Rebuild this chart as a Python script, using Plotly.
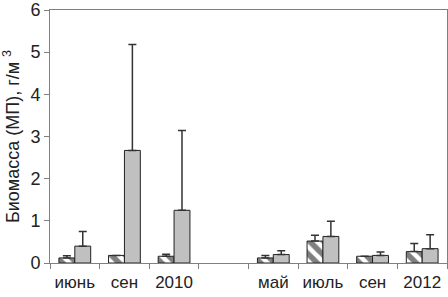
import plotly.graph_objects as go

categories = ["июнь", "сен", "2010", " ", "май", "июль", "сен ", "2012"]
tick_labels = ["июнь", "сен", "2010", "", "май", "июль", "сен", "2012"]

hatched_vals = [0.12, 0.18, 0.16, None, 0.12, 0.52, 0.16, 0.27]
hatched_err = [0.05, 0.0, 0.05, None, 0.06, 0.14, 0.0, 0.19]
gray_vals = [0.40, 2.67, 1.25, None, 0.20, 0.63, 0.18, 0.34]
gray_err = [0.35, 2.51, 1.89, None, 0.09, 0.36, 0.08, 0.33]

fig = go.Figure()
fig.add_trace(go.Bar(
    x=categories, y=hatched_vals,
    marker=dict(color="white", line=dict(color="#222222", width=1),
                pattern=dict(shape="\\", fgcolor="black", bgcolor="white",
                             size=10, solidity=0.55)),
    error_y=dict(type="data", array=hatched_err, arrayminus=[0]*8,
                 symmetric=False, color="#333333", thickness=1.5, width=4),
    showlegend=False,
))
fig.add_trace(go.Bar(
    x=categories, y=gray_vals,
    marker=dict(color="#c0c0c0", line=dict(color="#222222", width=1)),
    error_y=dict(type="data", array=gray_err, arrayminus=[0]*8,
                 symmetric=False, color="#333333", thickness=1.5, width=4),
    showlegend=False,
))

fig.update_layout(
    width=448, height=297,
    margin=dict(l=50, r=1, t=10, b=34),
    paper_bgcolor="white", plot_bgcolor="white",
    barmode="group", bargap=0.36, bargroupgap=0,
    font=dict(family="Arial, Liberation Sans, sans-serif", color="#222222"),
)
fig.update_xaxes(
    type="category", categoryorder="array", categoryarray=categories,
    tickmode="array", tickvals=categories, ticktext=tick_labels,
    tickson="boundaries", ticks="outside", ticklen=5, tickcolor="#808080",
    showline=True, linecolor="#808080", linewidth=1, mirror=True,
    tickfont=dict(size=17), ticklabelstandoff=4, ticklabeloverflow="allow",
    tickangle=0, automargin=False,
    showgrid=False, zeroline=False,
)
fig.update_yaxes(
    range=[0, 6], tickvals=[0, 1, 2, 3, 4, 5, 6],
    ticks="outside", ticklen=5, tickcolor="#808080",
    showline=True, linecolor="#808080", linewidth=1, mirror=True,
    tickfont=dict(size=18), ticklabeloverflow="allow", automargin=False,
    showgrid=False, zeroline=False,
    title=dict(text="Биомасса (МП), г/м <sup>3</sup>", font=dict(size=18), standoff=6),
)

fig.write_html("out.html", config={"displayModeBar": False},
               post_script="document.body.style.margin='0';")
